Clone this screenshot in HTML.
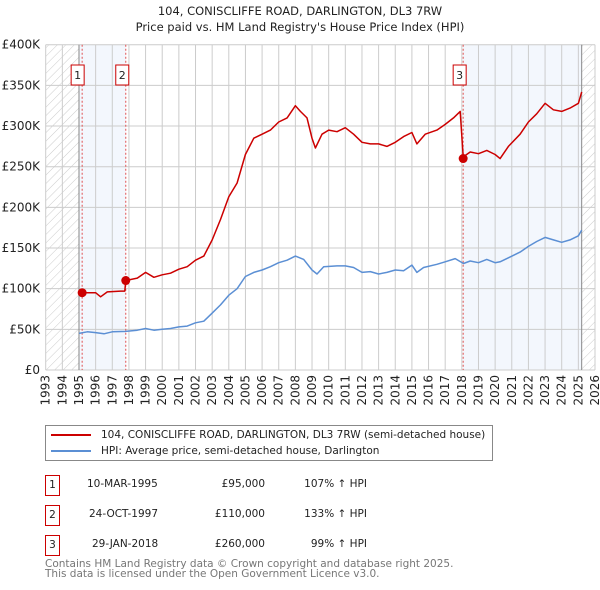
<!DOCTYPE html>
<html><head><meta charset="utf-8">
<style>
body{margin:0;background:#fff;font-family:"Liberation Sans","DejaVu Sans",sans-serif;}
#wrap{position:relative;width:600px;height:590px;overflow:hidden}
svg text{font-family:"DejaVu Sans","Liberation Sans",sans-serif;}
</style></head>
<body>
<div id="wrap">
<svg id="chart" width="600" height="590">
<defs>
<pattern id="hatch" width="6" height="6" patternUnits="userSpaceOnUse" patternTransform="rotate(45)">
<line x1="0" y1="0" x2="0" y2="6" stroke="#ccc" stroke-width="1"/>
</pattern>
</defs>
<text x="300" y="15" text-anchor="middle" font-size="11.5" fill="#222">104, CONISCLIFFE ROAD, DARLINGTON, DL3 7RW</text>
<text x="300" y="31" text-anchor="middle" font-size="11.5" fill="#222">Price paid vs. HM Land Registry's House Price Index (HPI)</text>
</svg>
<div style="position:absolute;left:45px;top:425px;width:448px;height:36px;border:1px solid #888;box-sizing:border-box;font-size:10.5px;font-family:'DejaVu Sans','Liberation Sans',sans-serif;color:#222">
 <div style="position:absolute;left:5px;top:3px;white-space:nowrap"><span style="display:inline-block;width:40px;height:2px;background:#cc0000;vertical-align:middle;margin-right:10px"></span>104, CONISCLIFFE ROAD, DARLINGTON, DL3 7RW (semi-detached house)</div>
 <div style="position:absolute;left:5px;top:19px;white-space:nowrap"><span style="display:inline-block;width:40px;height:2px;background:#5b8fd4;vertical-align:middle;margin-right:10px"></span>HPI: Average price, semi-detached house, Darlington</div>
</div>
<div id="table" style="font-size:10.5px;font-family:'DejaVu Sans','Liberation Sans',sans-serif;color:#222"></div>
<div style="position:absolute;left:45px;top:559px;font-size:10.5px;line-height:10px;color:#777;font-family:'DejaVu Sans','Liberation Sans',sans-serif">Contains HM Land Registry data © Crown copyright and database right 2025.<br>This data is licensed under the Open Government Licence v3.0.</div>
</div>
<script>
const hpiYears=[1995.0,1995.5,1996,1996.5,1997,1997.8,1998.5,1999,1999.5,2000,2000.5,2001,2001.5,2002,2002.5,2003,2003.5,2004,2004.5,2005,2005.5,2006,2006.5,2007,2007.5,2008,2008.5,2009,2009.3,2009.7,2010.5,2011,2011.5,2012,2012.5,2013,2013.5,2014,2014.5,2015,2015.3,2015.7,2016.5,2017,2017.6,2018.1,2018.5,2019,2019.5,2020,2020.3,2020.8,2021.5,2022,2022.5,2023,2023.5,2024,2024.5,2025,2025.2];
const hpiValues=[45,47,46,44.5,47,47.5,49,51,49,50,51,53,54,58,60,70,80,92,100,115,120,123,127,132,135,140,136,123,118,127,128,128,126,120,121,118,120,123,122,129,120,126,130,133,137,131,134,132,136,132,133,138,145,152,158,163,160,157,160,165,172];
const redYears=[1995.2,1996,1996.3,1996.7,1997.5,1997.75,1997.81,1998.5,1999,1999.5,2000,2000.5,2001,2001.5,2002,2002.5,2003,2003.5,2004,2004.5,2005,2005.5,2006,2006.5,2007,2007.5,2008,2008.3,2008.7,2009,2009.2,2009.6,2010,2010.5,2011,2011.5,2012,2012.5,2013,2013.5,2014,2014.5,2015,2015.3,2015.8,2016.5,2017,2017.5,2017.9,2018.08,2018.5,2019,2019.5,2020,2020.3,2020.8,2021.5,2022,2022.5,2023,2023.5,2024,2024.5,2025,2025.2];
const redValues=[95,95,90,96,97,97,110,113,120,114,117,119,124,127,135,140,160,185,213,230,265,285,290,295,305,310,325,318,310,285,273,290,295,293,298,290,280,278,278,275,280,287,292,278,290,295,302,310,318,262,268,266,270,265,260,275,290,305,315,328,320,318,322,328,342];
const saleYears=[1995.19,1997.81,2018.08];
const saleValues=[95,110,260];
const saleLabels=["1","2","3"];
const saleDates=["10-MAR-1995","24-OCT-1997","29-JAN-2018"];
const salePrices=["£95,000","£110,000","£260,000"];
const saleHpi=["107% ↑ HPI","133% ↑ HPI","99% ↑ HPI"];
const yTicks=[0,50,100,150,200,250,300,350,400];
const yTickLabels=["£0","£50K","£100K","£150K","£200K","£250K","£300K","£350K","£400K"];
const xTicks=[];for(let y=1993;y<=2026;y++)xTicks.push(y);

const L=45.7,R=595,T=44.7,B=370;
const xs=v=>L+(v-1993)/(2026-1993)*(R-L);
const ys=v=>B-v/400*(B-T);
const NS="http://www.w3.org/2000/svg";
const svg=document.getElementById('chart');
function mk(tag,attrs,parent){const e=document.createElementNS(NS,tag);for(const k in attrs)e.setAttribute(k,attrs[k]);(parent||svg).appendChild(e);return e;}

let r;
r=mk('rect',{x:L,y:T,width:xs(1995)-L,height:B-T,fill:'url(#hatch)'});


r=mk('rect',{x:xs(2025.2),y:T,width:R-xs(2025.2),height:B-T,fill:'url(#hatch)'});


r=mk('rect',{x:xs(1995),y:T,width:xs(saleYears[1])-xs(1995),height:B-T,fill:'#eef3fc',opacity:0.7});


r=mk('rect',{x:xs(saleYears[2]),y:T,width:xs(2025.2)-xs(saleYears[2]),height:B-T,fill:'#eef3fc',opacity:0.7});



xTicks.forEach(t=>{const l=mk('line',{x1:xs(t),x2:xs(t),y1:T,y2:B,stroke:'#ccc','stroke-width':1});


const tx=mk('text',{x:0,y:0,'font-size':12,fill:'#222','text-anchor':'end',transform:`translate(${xs(t)+4},${B+5}) rotate(-90)`});tx.textContent=t;

});
yTicks.forEach((t,i)=>{const l=mk('line',{x1:L,x2:R,y1:ys(t),y2:ys(t),stroke:'#ccc','stroke-width':1});


const tx=mk('text',{x:40,y:ys(t)+4,'font-size':12,fill:'#222','text-anchor':'end'});tx.textContent=yTickLabels[i];

});
r=mk('line',{x1:xs(1995),x2:xs(1995),y1:T,y2:B,stroke:'#888','stroke-width':1});


r=mk('line',{x1:xs(2025.2),x2:xs(2025.2),y1:T,y2:B,stroke:'#888','stroke-width':1});



saleYears.forEach((s,i)=>{const l=mk('line',{x1:xs(s),x2:xs(s),y1:T,y2:B,stroke:'#e05050','stroke-width':1,'stroke-dasharray':'2,2'});


const g=mk('g',{});


const off=(i==0?-11:-10);
mk('rect',{x:xs(s)+off,y:65,width:13,height:20,fill:'#fff',stroke:'#c00','stroke-width':1},g);
const t=mk('text',{x:xs(s)+off+6.5,y:79,'font-size':11,'text-anchor':'middle',fill:'#222'},g);t.textContent=saleLabels[i];});

function path(xv,yv,col,name){let d='';xv.forEach((x,i)=>{d+=(i?'L':'M')+xs(x).toFixed(1)+','+ys(yv[i]).toFixed(1);});
const p=mk('path',{d:d,fill:'none',stroke:col,'stroke-width':1.5,'stroke-linejoin':'round'});

}
path(hpiYears,hpiValues,'#5b8fd4','hpi-line');
path(redYears,redValues,'#cc0000','property-price-line');
saleYears.forEach((s,i)=>{const c=mk('circle',{cx:xs(s),cy:ys(saleValues[i]),r:4.5,fill:'#cc0000'});

});

const tb=document.getElementById('table');
saleYears.forEach((s,i)=>{const y=475+i*30;
const row=document.createElement('div');


row.style.cssText=`position:absolute;left:0;top:${y}px;width:600px;height:20px`;
row.innerHTML=`<div style="position:absolute;left:45px;top:0;width:13px;height:19px;border:1px solid #c00;text-align:center;line-height:19px">${saleLabels[i]}</div>
<div style="position:absolute;left:${i==2?92:i==1?89:87}px;top:3px">${saleDates[i]}</div>
<div style="position:absolute;right:335px;top:3px">${salePrices[i]}</div>
<div style="position:absolute;right:233px;top:3px">${saleHpi[i]}</div>`;
tb.appendChild(row);});
</script>
</body></html>
